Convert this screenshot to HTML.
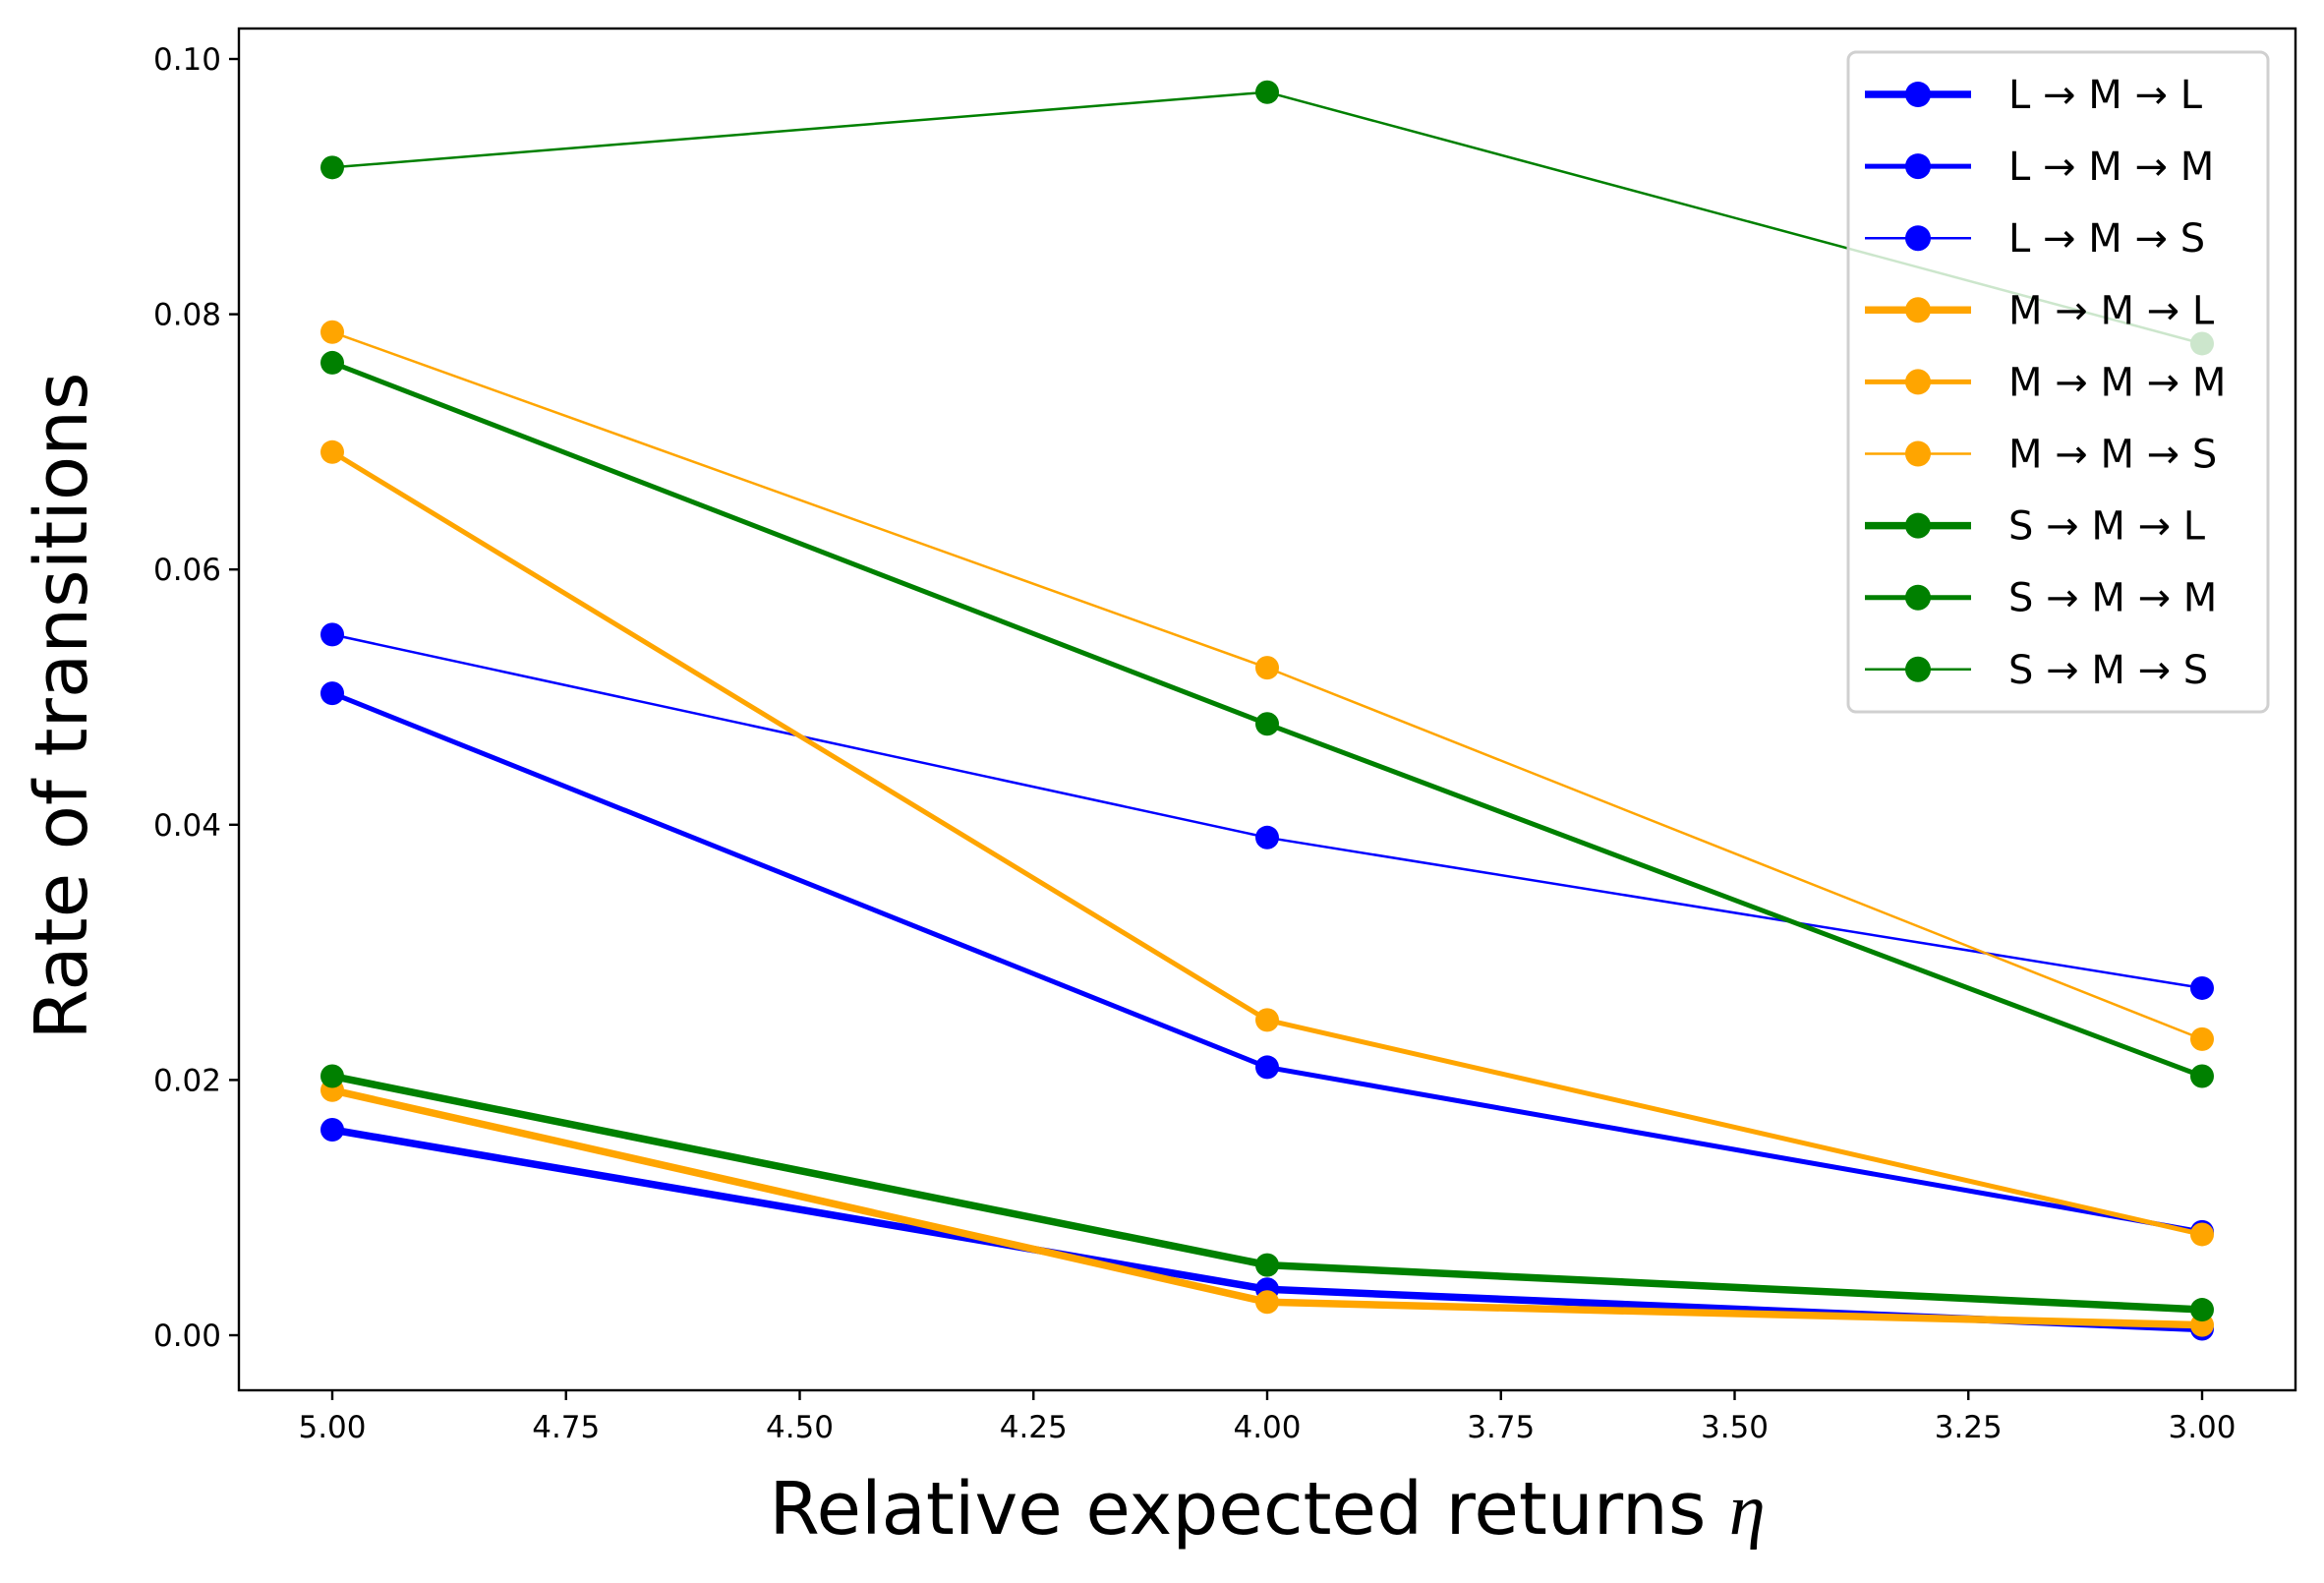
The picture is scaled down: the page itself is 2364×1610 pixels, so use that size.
<!DOCTYPE html>
<html><head><meta charset="utf-8"><style>
html,body{margin:0;padding:0;background:#fff}
svg{display:block}
text{font-family:"DejaVu Sans","Liberation Sans",sans-serif;fill:#000}
</style></head><body>
<svg id="chart" width="2364" height="1610" viewBox="0 0 2364 1610" xmlns="http://www.w3.org/2000/svg">
<rect x="0" y="0" width="2364" height="1610" fill="#fff"/>
<g id="plot"></g>
</svg>
<script>
const categories = [5.0, 4.0, 3.0];
const seriesNames = ["L\u2192M\u2192L","L\u2192M\u2192M","L\u2192M\u2192S","M\u2192M\u2192L","M\u2192M\u2192M","M\u2192M\u2192S","S\u2192M\u2192L","S\u2192M\u2192M","S\u2192M\u2192S"];
const sLML = [0.0161, 0.0036, 0.0005];
const sLMM = [0.0503, 0.0210, 0.0081];
const sLMS = [0.0549, 0.0390, 0.0272];
const sMML = [0.0192, 0.0026, 0.0008];
const sMMM = [0.0692, 0.0247, 0.0079];
const sMMS = [0.0786, 0.0523, 0.0232];
const sSML = [0.0203, 0.0055, 0.0020];
const sSMM = [0.0762, 0.0479, 0.0203];
const sSMS = [0.0915, 0.0974, 0.0777];
const xTicks = ["5.00","4.75","4.50","4.25","4.00","3.75","3.50","3.25","3.00"];
const yTicks = ["0.00","0.02","0.04","0.06","0.08","0.10"];

const NS="http://www.w3.org/2000/svg";
const L=243,R=2335,T=29,B=1414;
function xs(v){return 338+(5-v)/2*(2240-338);}
function ys(v){return 1358-v/0.1*(1358-60);}
const g=document.getElementById('plot');
function mk(tag,attrs,parent){const e=document.createElementNS(NS,tag);for(const k in attrs)e.setAttribute(k,attrs[k]);(parent||g).appendChild(e);return e;}

const allSeries=[sLML,sLMM,sLMS,sMML,sMMM,sMMS,sSML,sSMM,sSMS];
const colors=["#0000ff","#0000ff","#0000ff","#ffa500","#ffa500","#ffa500","#008000","#008000","#008000"];
const widths=[7.5,5,2.5,7.5,5,2.5,7.5,5,2.5];
const keys=["l-m-l","l-m-m","l-m-s","m-m-l","m-m-m","m-m-s","s-m-l","s-m-m","s-m-s"];

allSeries.forEach((s,i)=>{
  const sg=mk('g',{});
  
  
  const pts=s.map((v,j)=>xs(categories[j]).toFixed(1)+','+ys(v).toFixed(1)).join(' ');
  const pl=mk('polyline',{points:pts,fill:'none',stroke:colors[i],'stroke-width':widths[i],'stroke-linejoin':'round'},sg);
  
  
  s.forEach((v,j)=>{
    const c=mk('circle',{cx:xs(categories[j]),cy:ys(v),r:12,fill:colors[i]},sg);
    
    
  });
});

const frame=mk('rect',{x:L,y:T,width:R-L,height:B-T,fill:'none',stroke:'#000','stroke-width':2.4});



xTicks.forEach(t=>{
  const x=xs(parseFloat(t));
  const tl=mk('line',{x1:x,y1:B,x2:x,y2:B+10,stroke:'#000','stroke-width':2.4});
  
  
  const tx=mk('text',{x:x,y:B+48,'text-anchor':'middle','font-size':31});
  tx.textContent=t;
  
  
});
yTicks.forEach(t=>{
  const y=ys(parseFloat(t));
  const tl=mk('line',{x1:L-10,y1:y,x2:L,y2:y,stroke:'#000','stroke-width':2.4});
  
  
  const tx=mk('text',{x:L-18,y:y+11,'text-anchor':'end','font-size':31});
  tx.textContent=t;
  
  
});

const xl=mk('text',{x:1289,y:1560,'text-anchor':'middle','font-size':74});
xl.innerHTML='Relative expected returns <tspan font-family="Liberation Serif,serif" font-style="italic">η</tspan>';


const yl=mk('text',{x:0,y:0,'text-anchor':'middle','font-size':74,transform:'translate(88,718) rotate(-90)'});
yl.textContent='Rate of transitions';



const lg=mk('g',{});


const lb=mk('rect',{x:1880,y:53,width:427,height:671,rx:8,fill:'#fff','fill-opacity':0.8,stroke:'#d0d0d0','stroke-width':3},lg);


seriesNames.forEach((n,i)=>{
  const y=96+i*73.1;
  const eg=mk('g',{},lg);
  
  
  mk('line',{x1:1897,y1:y,x2:2005,y2:y,stroke:colors[i],'stroke-width':widths[i]},eg);
  mk('circle',{cx:1951,cy:y,r:13,fill:colors[i]},eg);
  const t=mk('text',{x:2043,y:y+14,'font-size':40},eg);
  t.textContent=n.split('\u2192').join(' \u2192 ');
});
</script>
</body></html>
